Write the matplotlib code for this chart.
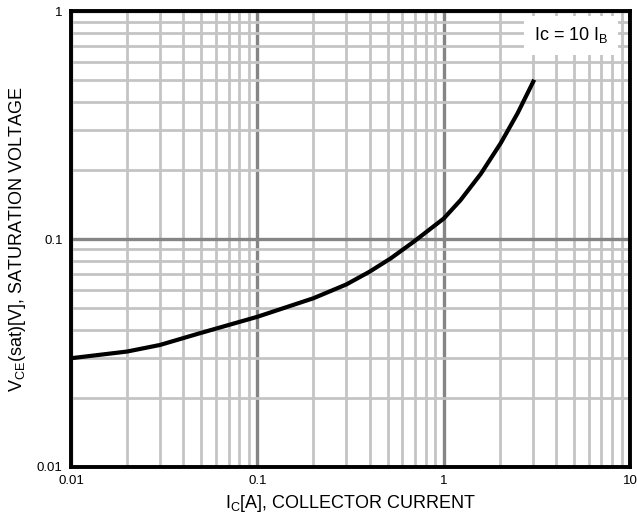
import matplotlib
matplotlib.use("Agg")
import matplotlib.pyplot as plt
from matplotlib.ticker import LogLocator, FixedLocator, NullFormatter

plt.rcParams['font.family'] = ['Liberation Sans', 'DejaVu Sans']

# curve (Ic = 10 Ib)
ic = [0.01, 0.02, 0.03, 0.049, 0.1, 0.2, 0.3, 0.4, 0.52, 0.69, 1.0,
      1.23, 1.58, 2.02, 2.49, 3.06]
vce_sat = [0.0300, 0.0321, 0.0343, 0.0386, 0.0456, 0.0550, 0.0632, 0.0719, 0.0823, 0.0973, 0.123,
           0.148, 0.193, 0.263, 0.356, 0.50]

x_ticks = [0.01, 0.1, 1, 10]
x_labels = ["0.01", "0.1", "1", "10"]
y_ticks = [0.01, 0.1, 1]
y_labels = ["0.01", "0.1", "1"]

fig = plt.figure(figsize=(6.37, 5.24), dpi=100)
ax = fig.add_axes([0.1115, 0.1088, 0.8776, 0.870])

ax.set_xscale("log")
ax.set_yscale("log")
ax.set_xlim(0.01, 10)
ax.set_ylim(0.01, 1)

ax.xaxis.set_major_locator(FixedLocator(x_ticks))
ax.yaxis.set_major_locator(FixedLocator(y_ticks))
ax.xaxis.set_minor_locator(LogLocator(base=10, subs=range(2, 10), numticks=20))
ax.yaxis.set_minor_locator(LogLocator(base=10, subs=range(2, 10), numticks=20))
ax.xaxis.set_minor_formatter(NullFormatter())
ax.yaxis.set_minor_formatter(NullFormatter())
ax.set_xticklabels(x_labels)
ax.set_yticklabels(y_labels)

ax.grid(which="minor", color="#c4c4c4", lw=2.0)
ax.grid(which="major", color="#858585", lw=2.4)
ax.set_axisbelow(True)
ax.tick_params(which="both", length=0, labelsize=9.5, pad=6)

for s in ax.spines.values():
    s.set_linewidth(2.8)
    s.set_color("black")

ax.plot(ic, vce_sat, color="black", lw=3.0, solid_capstyle="butt", solid_joinstyle="round")

ax.text(0.961, 0.947, r"Ic = 10 I$_{\mathregular{B}}$", transform=ax.transAxes,
        ha="right", va="center", fontsize=13,
        bbox=dict(facecolor="white", edgecolor="none", pad=7))

ax.set_xlabel(r"I$_{\mathregular{C}}$[A], COLLECTOR CURRENT", fontsize=13, labelpad=4)
ax.set_ylabel(r"V$_{\mathregular{CE}}$(sat)[V], SATURATION VOLTAGE", fontsize=13, labelpad=6)

fig.savefig("out.png", dpi=100)
